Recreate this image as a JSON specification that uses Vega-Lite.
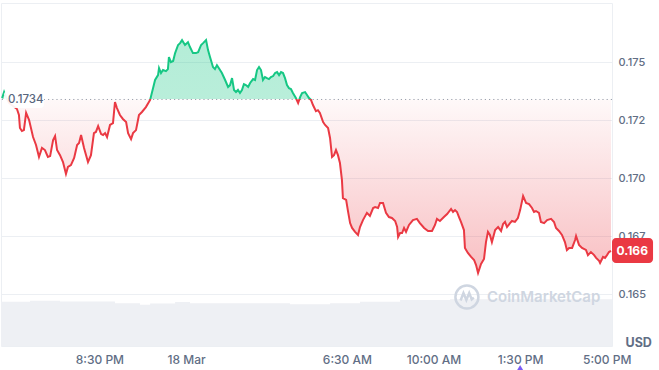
{
  "$schema": "https://vega.github.io/schema/vega-lite/v6.json",
  "width": 611,
  "height": 343,
  "autosize": {"type": "none"},
  "padding": {"left": 1, "top": 3, "right": 47, "bottom": 24},
  "background": "white",
  "config": {
    "view": {"stroke": "#eceff3", "strokeWidth": 1},
    "font": "Inter",
    "axisX": {
      "title": null, "grid": false, "ticks": false, "domain": false,
      "labelColor": "#616e85", "labelFontSize": 12, "labelFontWeight": 500, "labelFont": "Inter",
      "labelPadding": 8, "labelFlush": false, "labelOverlap": false
    }
  },
  "datasets": {
    "one": [{"k": 1}],
    "price": [
      {"t":16.57,"p":0.17346},{"t":16.65,"p":0.17372},{"t":16.73,"p":0.17350},{"t":16.85,"p":0.17325},{"t":17.01,"p":0.17312},
      {"t":17.17,"p":0.17299},{"t":17.25,"p":0.17273},{"t":17.29,"p":0.17217},{"t":17.37,"p":0.17204},{"t":17.45,"p":0.17208},
      {"t":17.54,"p":0.17282},{"t":17.66,"p":0.17251},{"t":17.82,"p":0.17178},{"t":17.94,"p":0.17144},{"t":18.06,"p":0.17092},
      {"t":18.18,"p":0.17131},{"t":18.30,"p":0.17122},{"t":18.42,"p":0.17092},{"t":18.51,"p":0.17096},{"t":18.63,"p":0.17165},
      {"t":18.71,"p":0.17182},{"t":18.79,"p":0.17122},{"t":18.91,"p":0.17100},{"t":19.03,"p":0.17070},{"t":19.15,"p":0.17019},
      {"t":19.23,"p":0.17049},{"t":19.35,"p":0.17057},{"t":19.48,"p":0.17088},{"t":19.60,"p":0.17144},{"t":19.68,"p":0.17152},
      {"t":19.76,"p":0.17187},{"t":19.88,"p":0.17131},{"t":20.04,"p":0.17070},{"t":20.16,"p":0.17100},{"t":20.28,"p":0.17195},
      {"t":20.36,"p":0.17200},{"t":20.45,"p":0.17225},{"t":20.57,"p":0.17191},{"t":20.65,"p":0.17187},{"t":20.73,"p":0.17195},
      {"t":20.81,"p":0.17178},{"t":20.93,"p":0.17230},{"t":21.05,"p":0.17238},{"t":21.13,"p":0.17329},{"t":21.21,"p":0.17303},
      {"t":21.33,"p":0.17273},{"t":21.45,"p":0.17256},{"t":21.58,"p":0.17243},{"t":21.66,"p":0.17195},{"t":21.78,"p":0.17169},
      {"t":21.86,"p":0.17195},{"t":21.98,"p":0.17208},{"t":22.10,"p":0.17273},{"t":22.22,"p":0.17286},{"t":22.38,"p":0.17307},
      {"t":22.55,"p":0.17338},{"t":22.67,"p":0.17389},{"t":22.75,"p":0.17424},{"t":22.87,"p":0.17445},{"t":22.91,"p":0.17475},
      {"t":22.99,"p":0.17454},{"t":23.07,"p":0.17467},{"t":23.19,"p":0.17462},{"t":23.27,"p":0.17471},{"t":23.31,"p":0.17523},
      {"t":23.39,"p":0.17501},{"t":23.48,"p":0.17506},{"t":23.56,"p":0.17540},{"t":23.68,"p":0.17575},{"t":23.76,"p":0.17583},
      {"t":23.84,"p":0.17596},{"t":23.96,"p":0.17575},{"t":24.08,"p":0.17587},{"t":24.16,"p":0.17566},{"t":24.28,"p":0.17540},
      {"t":24.40,"p":0.17540},{"t":24.49,"p":0.17544},{"t":24.61,"p":0.17575},{"t":24.69,"p":0.17583},{"t":24.81,"p":0.17596},
      {"t":24.89,"p":0.17553},{"t":24.97,"p":0.17523},{"t":25.09,"p":0.17480},{"t":25.17,"p":0.17471},{"t":25.25,"p":0.17488},
      {"t":25.33,"p":0.17475},{"t":25.45,"p":0.17454},{"t":25.58,"p":0.17424},{"t":25.70,"p":0.17394},{"t":25.78,"p":0.17402},
      {"t":25.86,"p":0.17432},{"t":25.94,"p":0.17381},{"t":26.02,"p":0.17372},{"t":26.10,"p":0.17381},{"t":26.18,"p":0.17368},
      {"t":26.26,"p":0.17381},{"t":26.34,"p":0.17406},{"t":26.42,"p":0.17402},{"t":26.51,"p":0.17394},{"t":26.59,"p":0.17411},
      {"t":26.71,"p":0.17428},{"t":26.79,"p":0.17424},{"t":26.87,"p":0.17467},{"t":26.95,"p":0.17480},{"t":27.03,"p":0.17467},
      {"t":27.11,"p":0.17424},{"t":27.19,"p":0.17437},{"t":27.27,"p":0.17432},{"t":27.35,"p":0.17428},{"t":27.43,"p":0.17437},
      {"t":27.52,"p":0.17441},{"t":27.60,"p":0.17454},{"t":27.68,"p":0.17458},{"t":27.76,"p":0.17445},{"t":27.84,"p":0.17458},
      {"t":27.92,"p":0.17454},{"t":28.00,"p":0.17432},{"t":28.08,"p":0.17402},{"t":28.16,"p":0.17389},{"t":28.24,"p":0.17385},
      {"t":28.32,"p":0.17368},{"t":28.44,"p":0.17346},{"t":28.53,"p":0.17325},{"t":28.61,"p":0.17350},{"t":28.69,"p":0.17368},
      {"t":28.81,"p":0.17372},{"t":28.89,"p":0.17359},{"t":28.97,"p":0.17346},{"t":29.05,"p":0.17338},{"t":29.13,"p":0.17316},
      {"t":29.25,"p":0.17290},{"t":29.33,"p":0.17294},{"t":29.41,"p":0.17282},{"t":29.54,"p":0.17243},{"t":29.62,"p":0.17230},
      {"t":29.74,"p":0.17217},{"t":29.82,"p":0.17174},{"t":29.90,"p":0.17092},{"t":29.98,"p":0.17100},{"t":30.06,"p":0.17122},
      {"t":30.14,"p":0.17100},{"t":30.22,"p":0.17066},{"t":30.30,"p":0.16993},{"t":30.34,"p":0.16915},{"t":30.47,"p":0.16907},
      {"t":30.55,"p":0.16855},{"t":30.63,"p":0.16807},{"t":30.71,"p":0.16786},{"t":30.83,"p":0.16769},{"t":30.95,"p":0.16756},
      {"t":31.03,"p":0.16790},{"t":31.15,"p":0.16820},{"t":31.31,"p":0.16851},{"t":31.43,"p":0.16838},{"t":31.56,"p":0.16872},
      {"t":31.64,"p":0.16876},{"t":31.76,"p":0.16872},{"t":31.84,"p":0.16894},{"t":31.96,"p":0.16894},{"t":32.08,"p":0.16851},
      {"t":32.20,"p":0.16833},{"t":32.32,"p":0.16829},{"t":32.45,"p":0.16816},{"t":32.53,"p":0.16790},{"t":32.57,"p":0.16747},
      {"t":32.65,"p":0.16764},{"t":32.73,"p":0.16764},{"t":32.81,"p":0.16786},{"t":32.89,"p":0.16769},{"t":33.01,"p":0.16799},
      {"t":33.17,"p":0.16820},{"t":33.33,"p":0.16825},{"t":33.45,"p":0.16807},{"t":33.62,"p":0.16786},{"t":33.78,"p":0.16773},
      {"t":33.94,"p":0.16773},{"t":34.06,"p":0.16799},{"t":34.14,"p":0.16825},{"t":34.26,"p":0.16816},{"t":34.42,"p":0.16833},
      {"t":34.55,"p":0.16846},{"t":34.71,"p":0.16868},{"t":34.79,"p":0.16855},{"t":34.87,"p":0.16863},{"t":34.95,"p":0.16855},
      {"t":35.03,"p":0.16833},{"t":35.11,"p":0.16812},{"t":35.23,"p":0.16777},{"t":35.27,"p":0.16700},{"t":35.39,"p":0.16678},
      {"t":35.52,"p":0.16661},{"t":35.64,"p":0.16648},{"t":35.72,"p":0.16626},{"t":35.80,"p":0.16592},{"t":35.92,"p":0.16631},
      {"t":36.04,"p":0.16652},{"t":36.12,"p":0.16725},{"t":36.20,"p":0.16769},{"t":36.28,"p":0.16756},{"t":36.36,"p":0.16725},
      {"t":36.49,"p":0.16777},{"t":36.61,"p":0.16790},{"t":36.73,"p":0.16773},{"t":36.81,"p":0.16803},{"t":36.89,"p":0.16812},
      {"t":36.97,"p":0.16790},{"t":37.09,"p":0.16807},{"t":37.17,"p":0.16816},{"t":37.29,"p":0.16812},{"t":37.41,"p":0.16829},
      {"t":37.50,"p":0.16863},{"t":37.62,"p":0.16924},{"t":37.74,"p":0.16894},{"t":37.86,"p":0.16889},{"t":37.98,"p":0.16872},
      {"t":38.06,"p":0.16855},{"t":38.14,"p":0.16859},{"t":38.26,"p":0.16851},{"t":38.34,"p":0.16812},{"t":38.47,"p":0.16807},
      {"t":38.59,"p":0.16820},{"t":38.75,"p":0.16825},{"t":38.87,"p":0.16812},{"t":38.95,"p":0.16786},{"t":39.07,"p":0.16773},
      {"t":39.19,"p":0.16756},{"t":39.31,"p":0.16725},{"t":39.39,"p":0.16691},{"t":39.48,"p":0.16700},{"t":39.60,"p":0.16700},
      {"t":39.72,"p":0.16734},{"t":39.76,"p":0.16751},{"t":39.88,"p":0.16713},{"t":40.00,"p":0.16700},{"t":40.16,"p":0.16691},
      {"t":40.24,"p":0.16669},{"t":40.36,"p":0.16682},{"t":40.49,"p":0.16669},{"t":40.57,"p":0.16657},{"t":40.69,"p":0.16644},
      {"t":40.73,"p":0.16635},{"t":40.85,"p":0.16661},{"t":40.93,"p":0.16657},{"t":41.01,"p":0.16669},{"t":41.09,"p":0.16682},
      {"t":41.17,"p":0.16687}
    ],
    "vol": [
      {"t":16.525,"v":129},{"t":17.70,"v":132},{"t":18.91,"v":130},{"t":21.13,"v":125},{"t":22.14,"v":120},
      {"t":22.55,"v":124},{"t":23.56,"v":128},{"t":24.16,"v":125},{"t":28.20,"v":122},{"t":29.82,"v":125},
      {"t":31.03,"v":129},{"t":32.65,"v":134},{"t":34.67,"v":136},{"t":41.212,"v":136}
    ]
  },
  "layer": [
    {
      "data": {"name": "vol"},
      "mark": {"type": "area", "interpolate": "step-after", "color": "#eef0f4"},
      "encoding": {
        "x": {"field": "t", "type": "quantitative", "scale": {"domain": [16.525, 41.212], "nice": false, "zero": false}},
        "y": {"field": "v", "type": "quantitative", "scale": {"domain": [0, 1000]}, "axis": null}
      }
    },
    {
      "data": {"name": "price"},
      "mark": {
        "type": "area", "line": false,
        "fill": {"gradient": "linear", "x1": 0, "y1": 0, "x2": 0, "y2": 1,
          "stops": [
            {"offset": 0, "color": "rgba(22,199,132,0.32)"},
            {"offset": 0.255, "color": "rgba(22,199,132,0.30)"},
            {"offset": 0.255, "color": "rgba(234,57,67,0.03)"},
            {"offset": 1, "color": "rgba(234,57,67,0.32)"}
          ]}
      },
      "encoding": {
        "x": {"field": "t", "type": "quantitative", "scale": {"domain": [16.525, 41.212], "nice": false, "zero": false}},
        "y": {"field": "p", "type": "quantitative", "scale": {"domain": [0.16277, 0.17756], "nice": false, "zero": false}, "axis": null},
        "y2": {"datum": 0.1734}
      }
    },
    {
      "data": {"name": "one"},
      "mark": {"type": "rule", "color": "#9aa1ad", "strokeWidth": 1, "strokeDash": [1.2, 3]},
      "encoding": {"y": {"datum": 0.1734, "type": "quantitative", "scale": {"domain": [0.16277, 0.17756], "nice": false, "zero": false}, "axis": null}}
    },
    {
      "data": {"name": "price"},
      "mark": {
        "type": "line", "strokeWidth": 2,
        "stroke": {"gradient": "linear", "x1": 0, "y1": 0, "x2": 0, "y2": 1,
          "stops": [
            {"offset": 0, "color": "#16c784"},
            {"offset": 0.255, "color": "#16c784"},
            {"offset": 0.255, "color": "#ea3943"},
            {"offset": 1, "color": "#ea3943"}
          ]}
      },
      "encoding": {
        "x": {
          "field": "t", "type": "quantitative",
          "scale": {"domain": [16.525, 41.212], "nice": false, "zero": false},
          "axis": {
            "title": null,
            "values": [20.5, 24, 30.5, 34, 37.5, 41],
            "labelExpr": "datum.value == 20.5 ? '8:30 PM' : datum.value == 24 ? '18 Mar' : datum.value == 30.5 ? '6:30 AM' : datum.value == 34 ? '10:00 AM' : datum.value == 37.5 ? '1:30 PM' : '5:00 PM'"
          }
        },
        "y": {
          "field": "p", "type": "quantitative",
          "scale": {"domain": [0.16277, 0.17756], "nice": false, "zero": false},
          "axis": {
            "orient": "right", "title": "USD", "titleAngle": 0, "titleX": 13, "titleY": 339.5,
            "titleAlign": "left", "titleBaseline": "middle", "titleFontSize": 12.5, "titleFontWeight": 700, "titleColor": "#616e85", "titleFont": "Inter",
            "values": [0.165, 0.1675, 0.17, 0.1725, 0.175],
            "labelExpr": "datum.value < 0.166 ? '0.165' : datum.value < 0.169 ? '0.167' : datum.value < 0.171 ? '0.170' : datum.value < 0.174 ? '0.172' : '0.175'",
            "ticks": false, "domain": false, "grid": true, "gridColor": "#eceff3",
            "labelColor": "#616e85", "labelFontSize": 11, "labelFontWeight": 500, "labelFont": "Inter", "labelPadding": 6
          }
        }
      }
    },
    {
      "data": {"name": "one"},
      "mark": {"type": "rect", "fill": "white", "opacity": 0.92, "cornerRadius": 3},
      "encoding": {
        "x": {"datum": 16.65, "type": "quantitative"}, "x2": {"datum": 18.26},
        "y": {"datum": 0.17376, "type": "quantitative", "scale": {"domain": [0.16277, 0.17756], "nice": false, "zero": false}, "axis": null}, "y2": {"datum": 0.17303}
      }
    },
    {
      "data": {"name": "one"},
      "mark": {"type": "text", "text": "0.1734", "align": "left", "baseline": "middle", "fontSize": 11.5, "fontWeight": 500, "color": "#58667e"},
      "encoding": {
        "x": {"datum": 16.81, "type": "quantitative"},
        "y": {"datum": 0.17337, "type": "quantitative", "scale": {"domain": [0.16277, 0.17756], "nice": false, "zero": false}, "axis": null}
      }
    },
    {
      "data": {"name": "one"},
      "mark": {"type": "rect", "fill": "#ea3943", "cornerRadius": 4},
      "encoding": {
        "x": {"datum": 41.212, "type": "quantitative"}, "x2": {"datum": 42.87},
        "y": {"datum": 0.16743, "type": "quantitative", "scale": {"domain": [0.16277, 0.17756], "nice": false, "zero": false}, "axis": null}, "y2": {"datum": 0.16635}
      }
    },
    {
      "data": {"name": "one"},
      "mark": {"type": "text", "text": "0.166", "align": "center", "baseline": "middle", "fontSize": 12, "fontWeight": 700, "color": "white"},
      "encoding": {
        "x": {"datum": 42.03, "type": "quantitative"},
        "y": {"datum": 0.16687, "type": "quantitative", "scale": {"domain": [0.16277, 0.17756], "nice": false, "zero": false}, "axis": null}
      }
    },
    {
      "data": {"name": "one"},
      "mark": {"type": "point", "shape": "circle", "size": 530, "filled": false, "stroke": "#cfd6e1", "strokeWidth": 2.5, "opacity": 1},
      "encoding": {
        "x": {"datum": 35.35, "type": "quantitative"},
        "y": {"datum": 0.16488, "type": "quantitative", "scale": {"domain": [0.16277, 0.17756], "nice": false, "zero": false}, "axis": null}
      }
    },
    {
      "data": {"name": "one"},
      "mark": {"type": "point", "shape": "M-0.55,0.3 L-0.3,-0.35 L-0.05,0.25 L0.2,-0.35 L0.42,0.2 L0.6,0.05", "size": 530, "filled": false, "stroke": "#cfd6e1", "strokeWidth": 2.5, "opacity": 1},
      "encoding": {
        "x": {"datum": 35.35, "type": "quantitative"},
        "y": {"datum": 0.16488, "type": "quantitative", "scale": {"domain": [0.16277, 0.17756], "nice": false, "zero": false}, "axis": null}
      }
    },
    {
      "data": {"name": "one"},
      "mark": {"type": "text", "text": "CoinMarketCap", "align": "left", "baseline": "middle", "fontSize": 15, "fontWeight": 600, "color": "#cfd6e1"},
      "encoding": {
        "x": {"datum": 36.16, "type": "quantitative"},
        "y": {"datum": 0.16488, "type": "quantitative", "scale": {"domain": [0.16277, 0.17756], "nice": false, "zero": false}, "axis": null}
      }
    },
    {
      "data": {"name": "one"},
      "mark": {"type": "point", "shape": "triangle-up", "size": 45, "filled": true, "color": "#7b5cf5", "opacity": 1},
      "encoding": {
        "x": {"datum": 37.5, "type": "quantitative"},
        "y": {"datum": 0.16183, "type": "quantitative", "scale": {"domain": [0.16277, 0.17756], "nice": false, "zero": false}, "axis": null}
      }
    }
  ],
  "resolve": {"scale": {"y": "independent"}}
}
